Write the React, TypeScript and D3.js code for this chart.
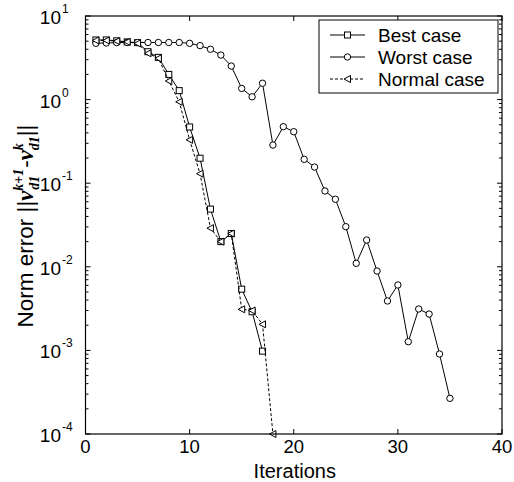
import React from "react";
import * as d3 from "d3";

const bestIter = [1, 2, 3, 4, 5, 6, 7, 8, 9, 10, 11, 12, 13, 14, 15, 16, 17];
const bestVals = [5.17, 5.17, 5.05, 4.9, 4.8, 3.74, 3.2, 2.0, 1.28, 0.47, 0.199, 0.049, 0.02, 0.025, 0.0054, 0.0029, 0.00098];

const worstIter = [1, 2, 3, 4, 5, 6, 7, 8, 9, 10, 11, 12, 13, 14, 15, 16, 17, 18, 19, 20, 21, 22, 23, 24, 25, 26, 27, 28, 29, 30, 31, 32, 33, 34, 35];
const worstVals = [4.71, 4.76, 4.8, 4.82, 4.82, 4.82, 4.82, 4.82, 4.82, 4.71, 4.42, 4.0, 3.41, 2.52, 1.36, 1.08, 1.57, 0.286, 0.474, 0.413, 0.193, 0.156, 0.0807, 0.0643, 0.0302, 0.011, 0.0209, 0.0089, 0.0039, 0.00606, 0.00127, 0.00313, 0.00272, 0.000906, 0.000267];

const normalIter = [1, 2, 3, 4, 5, 6, 7, 8, 9, 10, 11, 12, 13, 14, 15, 16, 17, 18];
const normalVals = [5.1, 5.1, 5.0, 4.9, 4.7, 3.58, 3.12, 1.67, 0.94, 0.33, 0.13, 0.029, 0.02, 0.025, 0.0031, 0.003, 0.00205, 0.0001];

const xTicks = [0, 10, 20, 30, 40];
const yDecades = [-4, -3, -2, -1, 0, 1];
const legendLabels = ["Best case", "Worst case", "Normal case"];

const W = 514, H = 482;
const L = 85.5, R = 502, T = 16, B = 434;
const FONT = "Liberation Sans, Arial, sans-serif";
const SERIF = "Liberation Serif, Times New Roman, serif";

function Marker({ kind, cx, cy }: { kind: string; cx: number; cy: number }) {
  if (kind === "square") {
    return <rect x={cx - 3} y={cy - 3} width={6} height={6} fill="white" stroke="black" strokeWidth={1} />;
  }
  if (kind === "circle") {
    return <circle cx={cx} cy={cy} r={3.2} fill="white" stroke="black" strokeWidth={1} />;
  }
  const p = `${cx - 3.5},${cy} ${cx + 3},${cy - 3.5} ${cx + 3},${cy + 3.5}`;
  return <polygon points={p} fill="white" stroke="black" strokeWidth={1} />;
}

export default function App() {
  const x = d3.scaleLinear().domain([0, 40]).range([L, R]);
  const y = d3.scaleLog().domain([1e-4, 10]).range([B, T]);

  const line = d3
    .line<[number, number]>()
    .x((d) => x(d[0]))
    .y((d) => y(d[1]));

  const series = [
    { iter: bestIter, vals: bestVals, kind: "square", dash: undefined as string | undefined },
    { iter: worstIter, vals: worstVals, kind: "circle", dash: undefined as string | undefined },
    { iter: normalIter, vals: normalVals, kind: "triangle", dash: "3,2" },
  ];

  const minor: number[] = [];
  for (let e = -4; e < 1; e++) {
    for (let m = 2; m <= 9; m++) minor.push(m * Math.pow(10, e));
  }

  return (
    <svg width={W} height={H} style={{ position: "absolute", left: 0, top: 0, background: "white" }} fontFamily={FONT}>
      <rect x={0} y={0} width={W} height={H} fill="white" />
      {series.map((s, si) => {
        const pts: [number, number][] = s.iter.map((it, i) => [it, s.vals[i]]);
        return (
          <g key={si}>
            <path d={line(pts) || ""} fill="none" stroke="black" strokeWidth={1} strokeDasharray={s.dash} />
            {pts.map((p, i) => (
              <Marker key={i} kind={s.kind} cx={x(p[0])} cy={y(p[1])} />
            ))}
          </g>
        );
      })}
      <rect x={L} y={T} width={R - L} height={B - T} fill="none" stroke="black" strokeWidth={1.2} />
      {xTicks.map((t) => (
        <g key={t}>
          <line x1={x(t)} x2={x(t)} y1={B} y2={B - 5} stroke="black" />
          <line x1={x(t)} x2={x(t)} y1={T} y2={T + 5} stroke="black" />
          <text x={x(t)} y={453} textAnchor="middle" fontSize={18.5}>{t}</text>
        </g>
      ))}
      {yDecades.map((e) => {
        const yy = y(Math.pow(10, e));
        return (
          <g key={e}>
            <line x1={L} x2={L + 5} y1={yy} y2={yy} stroke="black" />
            <line x1={R} x2={R - 5} y1={yy} y2={yy} stroke="black" />
            <text x={61} y={yy + 8} textAnchor="end" fontSize={19}>10</text>
            <text x={62} y={yy - 3} textAnchor="start" fontSize={12}>{e}</text>
          </g>
        );
      })}
      {minor.map((v, i) => (
        <g key={i}>
          <line x1={L} x2={L + 3} y1={y(v)} y2={y(v)} stroke="black" />
          <line x1={R} x2={R - 3} y1={y(v)} y2={y(v)} stroke="black" />
        </g>
      ))}
      <text x={(L + R) / 2 + 1} y={478} textAnchor="middle" fontSize={20}>Iterations</text>
      <text transform="translate(33,226) rotate(-90)" textAnchor="middle" fontSize={22.5}>
        <tspan>Norm error ||</tspan>
        <tspan fontFamily={SERIF} fontStyle="italic" fontWeight="bold">v</tspan>
        <tspan fontFamily={SERIF} fontStyle="italic" fontWeight="bold" fontSize={14} dy={-10}>k+1</tspan>
        <tspan fontFamily={SERIF} fontStyle="italic" fontWeight="bold" fontSize={14} dx={-21} dy={16}>d1</tspan>
        <tspan dx={8} dy={-6}>-</tspan>
        <tspan fontFamily={SERIF} fontStyle="italic" fontWeight="bold">v</tspan>
        <tspan fontFamily={SERIF} fontStyle="italic" fontWeight="bold" fontSize={14} dy={-10}>k</tspan>
        <tspan fontFamily={SERIF} fontStyle="italic" fontWeight="bold" fontSize={14} dx={-7} dy={16}>d1</tspan>
        <tspan dy={-6}>||</tspan>
      </text>
      <rect x={319} y={20} width={179} height={73} fill="white" stroke="black" strokeWidth={1} />
      {legendLabels.map((lab, i) => {
        const ly = 35 + i * 22;
        const s = series[i];
        return (
          <g key={lab}>
            <line x1={330} x2={365} y1={ly} y2={ly} stroke="black" strokeDasharray={s.dash} />
            <Marker kind={s.kind} cx={347.5} cy={ly} />
            <text x={378} y={ly + 7} fontSize={19}>{lab}</text>
          </g>
        );
      })}
    </svg>
  );
}
